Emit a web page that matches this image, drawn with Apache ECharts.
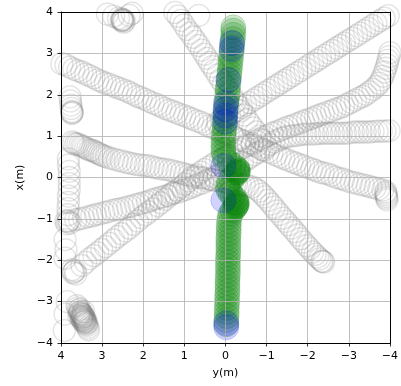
<!DOCTYPE html>
<html><head><meta charset="utf-8">
<script src="https://cdn.jsdelivr.net/npm/echarts@6/dist/echarts.min.js"></script>
<style>html,body{margin:0;padding:0;background:#fff}#c{width:401px;height:386px}</style>
</head><body><div id="c"></div>
<script>
// axis ticks
const xTicks = [-4,-3,-2,-1,0,1,2,3,4];
// gray pedestrians: [y(m), x(m)]
const ped1 = [[3.40,4.16],[3.20,4.09],[3.04,4.02],[2.87,3.95],[2.72,3.90],[2.60,3.85],[2.51,3.80],[2.46,3.78],[2.53,3.83],[2.48,3.75],[2.34,3.92],[2.27,3.97],[2.50,3.81],[2.52,3.79],[2.49,3.82]];
const ped2 = [[4.07,2.79],[3.98,2.75],[3.88,2.72],[3.79,2.67],[3.69,2.62],[3.59,2.58],[3.49,2.55],[3.40,2.50],[3.30,2.46],[3.20,2.41],[3.11,2.36],[3.01,2.32],[2.92,2.28],[2.82,2.25],[2.72,2.21],[2.63,2.17],[2.53,2.14],[2.43,2.10],[2.34,2.06],[2.24,2.01],[2.14,1.96],[2.05,1.93],[1.95,1.89],[1.86,1.84],[1.76,1.80],[1.66,1.76],[1.57,1.72],[1.47,1.67],[1.37,1.63],[1.28,1.60],[1.18,1.56],[1.08,1.52],[0.99,1.49],[0.89,1.45],[0.80,1.41],[0.70,1.37],[0.60,1.34],[0.51,1.29],[0.41,1.24],[0.31,1.20],[0.22,1.17],[0.12,1.12],[0.02,1.08],[-0.07,1.04],[-0.17,1.00],[-0.27,0.95],[-0.36,0.91],[-0.46,0.87],[-0.55,0.83],[-0.65,0.79],[-0.75,0.76],[-0.84,0.71],[-0.94,0.66],[-1.04,0.62],[-1.13,0.59],[-1.23,0.54],[-1.33,0.50],[-1.42,0.46],[-1.52,0.42],[-1.62,0.38],[-1.71,0.35],[-1.81,0.31],[-1.90,0.28],[-2.00,0.24],[-2.10,0.21],[-2.19,0.17],[-2.29,0.13],[-2.38,0.11],[-2.48,0.09],[-2.58,0.05],[-2.67,0.01],[-2.77,-0.02],[-2.87,-0.04],[-2.96,-0.08],[-3.06,-0.11],[-3.16,-0.13],[-3.25,-0.16],[-3.35,-0.18],[-3.45,-0.20],[-3.54,-0.23],[-3.64,-0.25],[-3.73,-0.28],[-3.83,-0.30],[-3.90,-0.38],[-3.92,-0.46],[-3.93,-0.54],[-3.91,-0.42],[-3.92,-0.50],[-3.90,-0.34]];
const ped3 = [[1.37,4.18],[1.30,4.08],[1.23,3.99],[1.15,3.90],[1.08,3.80],[1.01,3.69],[0.94,3.58],[0.86,3.49],[0.79,3.39],[0.72,3.29],[0.65,3.19],[0.58,3.08],[0.51,2.98],[0.45,2.88],[0.39,2.78],[0.32,2.68],[0.26,2.59],[0.19,2.48],[0.12,2.37],[0.05,2.26],[-0.02,2.16],[-0.10,2.05],[-0.17,1.94],[-0.24,1.83],[-0.31,1.72],[-0.38,1.61],[-0.46,1.51],[-0.53,1.40],[-0.60,1.29],[-0.67,1.20],[-0.75,1.10],[-0.82,1.00],[-0.89,0.90],[0.53,4.09],[0.65,3.92],[0.75,4.02]];
const ped4 = [[-4.05,3.97],[-3.96,3.91],[-3.86,3.85],[-3.76,3.79],[-3.66,3.73],[-3.57,3.67],[-3.47,3.61],[-3.38,3.55],[-3.28,3.49],[-3.19,3.43],[-3.09,3.37],[-2.99,3.31],[-2.89,3.25],[-2.80,3.19],[-2.70,3.13],[-2.61,3.07],[-2.51,3.01],[-2.41,2.95],[-2.31,2.89],[-2.22,2.83],[-2.12,2.77],[-2.03,2.71],[-1.93,2.65],[-1.84,2.59],[-1.74,2.53],[-1.64,2.47],[-1.54,2.41],[-1.45,2.35],[-1.35,2.29],[-1.26,2.23],[-1.16,2.17],[-1.06,2.11],[-0.96,2.05],[-0.87,1.99],[-0.77,1.93],[-0.68,1.87],[-0.58,1.81],[-0.49,1.75],[-0.39,1.69],[-0.29,1.63],[-0.19,1.57],[-0.10,1.51],[0.00,1.45],[0.10,1.39],[0.19,1.33]];
const ped5 = [[3.69,-2.28],[3.73,-2.23],[3.64,-2.33],[3.66,-2.25],[3.71,-2.30],[3.49,-2.13],[3.40,-2.05],[3.30,-1.96],[3.20,-1.89],[3.11,-1.82],[3.01,-1.74],[2.92,-1.67],[2.82,-1.59],[2.72,-1.51],[2.63,-1.43],[2.53,-1.36],[2.43,-1.29],[2.34,-1.22],[2.24,-1.13],[2.14,-1.05],[2.05,-0.97],[1.95,-0.90],[1.86,-0.83],[1.76,-0.76],[1.66,-0.68],[1.57,-0.61],[1.47,-0.53],[1.37,-0.45],[1.28,-0.37],[1.18,-0.30],[1.08,-0.23],[0.99,-0.16],[0.89,-0.08],[0.80,-0.01],[0.70,0.06],[0.60,0.13],[0.51,0.19],[0.41,0.25],[0.31,0.31],[0.22,0.37],[0.12,0.42],[0.02,0.47],[-0.07,0.53],[-0.17,0.59],[-0.27,0.64],[-0.36,0.69],[-0.46,0.74],[-0.55,0.78],[-0.65,0.83],[-0.75,0.88],[-0.84,0.93],[-0.94,0.98],[-1.04,1.02],[-1.13,1.07],[-1.23,1.10],[-1.33,1.14],[-1.42,1.18],[-1.52,1.22],[-1.62,1.25],[-1.71,1.29],[-1.81,1.32],[-1.90,1.36],[-2.00,1.40],[-2.10,1.43],[-2.19,1.47],[-2.29,1.51],[-2.38,1.54],[-2.48,1.58],[-2.58,1.61],[-2.67,1.65],[-2.77,1.68],[-2.87,1.72],[-2.96,1.77],[-3.06,1.82],[-3.16,1.87],[-3.25,1.92],[-3.34,1.96],[-3.42,2.01],[-3.51,2.07],[-3.59,2.13],[-3.67,2.20],[-3.74,2.28],[-3.79,2.36],[-3.83,2.45],[-3.87,2.55],[-3.90,2.64],[-3.93,2.73],[-3.95,2.83],[-3.98,2.92],[-4.00,3.02],[-4.03,3.11],[-4.05,3.21]];
const ped6 = [[3.83,-1.07],[3.88,-1.05],[3.78,-1.10],[3.86,-1.12],[3.81,-1.04],[3.64,-1.02],[3.55,-1.00],[3.45,-0.98],[3.35,-0.95],[3.25,-0.93],[3.16,-0.90],[3.06,-0.88],[2.96,-0.85],[2.87,-0.83],[2.77,-0.80],[2.67,-0.78],[2.58,-0.76],[2.48,-0.74],[2.38,-0.71],[2.29,-0.69],[2.19,-0.66],[2.10,-0.64],[2.00,-0.61],[1.90,-0.59],[1.81,-0.55],[1.71,-0.52],[1.61,-0.49],[1.52,-0.47],[1.42,-0.43],[1.32,-0.40],[1.23,-0.37],[1.13,-0.35],[1.03,-0.31],[0.94,-0.28],[0.84,-0.24],[0.75,-0.20],[0.65,-0.16],[0.55,-0.13],[0.46,-0.08],[0.36,-0.04],[0.26,0.01],[0.17,0.06],[0.07,0.11],[-0.02,0.16],[-0.12,0.20],[-0.22,0.25],[-0.31,0.31],[-0.41,0.37],[-0.51,0.43],[-0.60,0.49],[-0.70,0.55],[-0.80,0.61],[-0.89,0.67],[-0.99,0.74],[-1.08,0.80],[-1.18,0.86],[-1.28,0.91],[-1.37,0.95],[-1.47,0.98],[-1.57,1.00],[-1.66,1.01],[-1.76,1.02],[-1.86,1.04],[-1.95,1.05],[-2.05,1.05],[-2.15,1.05],[-2.24,1.06],[-2.34,1.07],[-2.44,1.07],[-2.53,1.07],[-2.63,1.07],[-2.72,1.07],[-2.82,1.07],[-2.92,1.07],[-3.01,1.08],[-3.11,1.10],[-3.21,1.10],[-3.30,1.10],[-3.40,1.10],[-3.50,1.10],[-3.59,1.11],[-3.69,1.12],[-3.79,1.12],[-3.88,1.12],[-3.98,1.13],[-4.07,1.14]];
const ped7 = [[3.73,0.86],[3.69,0.83],[3.64,0.81],[3.59,0.81],[3.54,0.78],[3.49,0.76],[3.45,0.74],[3.40,0.71],[3.35,0.69],[3.30,0.66],[3.25,0.66],[3.20,0.64],[3.16,0.61],[3.11,0.59],[3.06,0.57],[3.01,0.54],[2.96,0.52],[2.89,0.50],[2.82,0.47],[2.72,0.45],[2.63,0.42],[2.53,0.40],[2.43,0.37],[2.34,0.35],[2.24,0.33],[2.14,0.31],[2.05,0.30],[1.95,0.29],[1.86,0.28],[1.76,0.25],[1.66,0.23],[1.57,0.21],[1.47,0.20],[1.37,0.18],[1.28,0.16],[1.18,0.13],[1.08,0.11],[0.99,0.08],[0.89,0.06],[0.80,0.03],[0.70,0.01],[0.60,0.00],[0.51,-0.01],[0.41,-0.04],[0.31,-0.06],[0.22,-0.07],[0.12,-0.08],[0.03,-0.10],[-0.07,-0.11],[-0.17,-0.13],[-0.27,-0.16],[-0.36,-0.17],[-0.46,-0.18],[-0.55,-0.20],[-0.65,-0.23],[-0.74,-0.28],[-0.82,-0.33],[-0.89,-0.40],[-0.96,-0.47],[-1.03,-0.55],[-1.11,-0.64],[-1.18,-0.72],[-1.25,-0.81],[-1.32,-0.89],[-1.40,-0.98],[-1.47,-1.06],[-1.54,-1.14],[-1.61,-1.22],[-1.69,-1.31],[-1.76,-1.39],[-1.83,-1.48],[-1.90,-1.56],[-1.98,-1.65],[-2.05,-1.72],[-2.12,-1.80],[-2.18,-1.86],[-2.24,-1.92],[-2.29,-1.97],[-2.34,-2.02],[-2.39,-2.04],[-2.36,-2.03]];
const ped8 = [[3.61,-3.10],[3.59,-3.15],[3.57,-3.20],[3.54,-3.24],[3.52,-3.29],[3.49,-3.34],[3.47,-3.39],[3.45,-3.44],[3.42,-3.49],[3.40,-3.53],[3.37,-3.58],[3.35,-3.63],[3.33,-3.68],[3.54,-3.18],[3.47,-3.32],[3.42,-3.42],[3.37,-3.51],[3.49,-3.39],[3.45,-3.24],[3.57,-3.34],[3.50,-3.30],[3.46,-3.36],[3.44,-3.40],[3.48,-3.45],[3.43,-3.47],[3.52,-3.36],[3.50,-3.42],[3.41,-3.45],[3.45,-3.50],[3.55,-3.28],[3.39,-3.55],[3.48,-3.30],[3.44,-3.36],[3.40,-3.48],[3.53,-3.25]];
const ped9 = [[3.78,1.95],[3.77,1.85],[3.76,1.75],[3.75,1.67],[3.74,1.60],[3.73,1.56],[3.73,1.58],[3.74,1.55]];
const ped10 = [[3.82,0.45],[3.82,0.30],[3.80,0.15],[3.80,0.00],[3.80,-0.15],[3.80,-0.30],[3.82,-0.45],[3.82,-0.60],[3.83,-0.75],[3.83,-0.90],[3.90,-1.50],[3.88,-1.75],[3.90,-1.95],[3.85,-3.00],[3.90,-3.30],[3.92,-3.70]];
// robot (green) path and highlighted positions (blue)
const robot = [[-0.02,-3.55],[-0.02,-3.45],[-0.03,-3.35],[-0.03,-3.25],[-0.03,-3.15],[-0.04,-3.05],[-0.04,-2.95],[-0.04,-2.85],[-0.05,-2.75],[-0.05,-2.65],[-0.05,-2.55],[-0.05,-2.45],[-0.06,-2.35],[-0.06,-2.25],[-0.06,-2.15],[-0.06,-2.05],[-0.06,-1.95],[-0.07,-1.85],[-0.07,-1.75],[-0.07,-1.65],[-0.07,-1.55],[-0.07,-1.45],[-0.08,-1.35],[-0.08,-1.25],[-0.08,-1.15],[-0.09,-1.05],[-0.10,-0.95],[-0.13,-0.87],[-0.17,-0.80],[-0.22,-0.74],[-0.25,-0.70],[-0.26,-0.68],[-0.27,-0.65],[-0.28,-0.63],[-0.26,-0.60],[-0.27,-0.58],[-0.24,-0.52],[-0.18,-0.46],[-0.12,-0.38],[-0.07,-0.30],[-0.05,-0.22],[-0.08,-0.12],[-0.14,-0.04],[-0.22,0.04],[-0.27,0.12],[-0.29,0.11],[-0.29,0.14],[-0.31,0.16],[-0.30,0.18],[-0.28,0.22],[-0.20,0.29],[-0.10,0.36],[0.02,0.45],[0.04,0.55],[0.05,0.65],[0.05,0.75],[0.05,0.85],[0.04,0.95],[0.04,1.05],[0.03,1.15],[0.02,1.25],[0.02,1.35],[0.01,1.45],[0.00,1.55],[-0.01,1.65],[-0.02,1.75],[-0.03,1.85],[-0.04,1.95],[-0.05,2.05],[-0.06,2.15],[-0.07,2.25],[-0.08,2.35],[-0.09,2.45],[-0.10,2.55],[-0.11,2.65],[-0.12,2.75],[-0.13,2.85],[-0.14,2.95],[-0.15,3.05],[-0.16,3.15],[-0.17,3.25],[-0.18,3.35],[-0.19,3.45],[-0.19,3.55],[-0.19,3.63]];
const marks = [[-0.02,-3.62],[-0.02,-3.52],[0.05,-0.55],[0.05,0.28],[0.00,1.35],[0.00,1.50],[0.00,1.65],[-0.01,1.80],[-0.07,2.36],[-0.15,3.10],[-0.16,3.25]];

const peds = [ped1,ped2,ped3,ped4,ped5,ped6,ped7,ped8,ped9,ped10];
const minus = v => String(v).replace('-', '\u2212');
const font = 'DejaVu Sans';
const series = peds.map(d => ({
  type:'scatter', data:d, symbol:'circle', symbolSize:22, clip:true, silent:true,
  itemStyle:{color:'rgba(0,0,0,0)', borderColor:'rgba(128,128,128,0.28)', borderWidth:1.3}
}));
series.push({type:'scatter', data:robot, symbol:'circle', symbolSize:25, clip:true,
  itemStyle:{color:'rgba(0,128,0,0.24)', borderColor:'rgba(0,128,0,0.24)', borderWidth:1}});
series.push({type:'scatter', data:marks, symbol:'circle', symbolSize:25, clip:true,
  itemStyle:{color:'rgba(0,0,255,0.22)', borderColor:'rgba(0,0,255,0.22)', borderWidth:1}});

const chart = echarts.init(document.getElementById('c'), null, {renderer:'canvas'});
chart.setOption({
  animation:false,
  backgroundColor:'#fff',
  grid:{left:61, top:12, width:332, height:331},
  xAxis:[{
    type:'value', min:xTicks[0], max:xTicks[xTicks.length-1], interval:1, inverse:true, z:10,
    name:'y(m)', nameLocation:'middle', nameGap:25,
    nameTextStyle:{color:'#000', fontSize:11, fontFamily:font},
    axisLine:{show:true, onZero:false, lineStyle:{color:'#000', width:1}},
    axisTick:{show:true, length:3.5, lineStyle:{color:'#000', width:0.8}},
    axisLabel:{color:'#000', fontSize:11, fontFamily:font, margin:8, formatter:minus},
    splitLine:{show:true, lineStyle:{color:'#b0b0b0', width:0.8}}
  },{
    type:'value', position:'top', min:-4, max:4, inverse:true, z:10,
    axisLine:{show:true, onZero:false, lineStyle:{color:'#000', width:1}},
    axisTick:{show:false}, axisLabel:{show:false}, splitLine:{show:false}
  }],
  yAxis:[{
    type:'value', min:xTicks[0], max:xTicks[xTicks.length-1], interval:1, z:10,
    name:'x(m)', nameLocation:'middle', nameGap:32, nameRotate:90,
    nameTextStyle:{color:'#000', fontSize:11, fontFamily:font},
    axisLine:{show:true, onZero:false, lineStyle:{color:'#000', width:1}},
    axisTick:{show:true, length:3.5, lineStyle:{color:'#000', width:0.8}},
    axisLabel:{color:'#000', fontSize:11, fontFamily:font, margin:8, formatter:minus},
    splitLine:{show:true, lineStyle:{color:'#b0b0b0', width:0.8}}
  },{
    type:'value', position:'right', min:-4, max:4, z:10,
    axisLine:{show:true, onZero:false, lineStyle:{color:'#000', width:1}},
    axisTick:{show:false}, axisLabel:{show:false}, splitLine:{show:false}
  }],
  series: series
});
</script></body></html>
